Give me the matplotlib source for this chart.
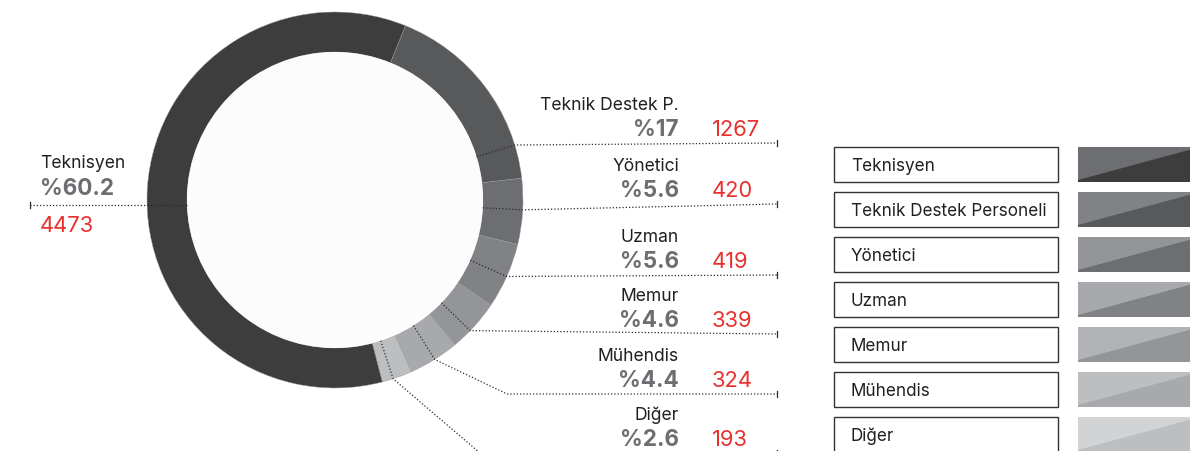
import numpy as np
import matplotlib
matplotlib.use('Agg')
import matplotlib.pyplot as plt
from matplotlib.patches import Wedge, Circle, Rectangle, Polygon

# data
categories = ['Teknisyen', 'Teknik Destek P.', 'Yönetici', 'Uzman', 'Memur', 'Mühendis', 'Diğer']
legend_labels = ['Teknisyen', 'Teknik Destek Personeli', 'Yönetici', 'Uzman', 'Memur', 'Mühendis', 'Diğer']
counts = [4473, 1267, 420, 419, 339, 324, 193]
percents = ['%60.2', '%17', '%5.6', '%5.6', '%4.6', '%4.4', '%2.6']

colors = ['#3d3d3e', '#58595b', '#6d6e71', '#808285', '#939598', '#a7a9ac', '#bcbec0']
light_colors = ['#6d6e71', '#808285', '#939598', '#a7a9ac', '#b1b3b6', '#bcbec0', '#d1d3d4']

plt.rcParams['font.family'] = ['Inter', 'DejaVu Sans']

fig = plt.figure(figsize=(11.9, 4.52), dpi=100)
ax = fig.add_axes([0, 0, 1, 1])
ax.set_xlim(0, 1190)
ax.set_ylim(452, 0)
ax.axis('off')

cx, cy, R, r = 335, 201, 188, 148
start = 22  # clockwise from 12 o'clock, where Teknik Destek begins
total = sum(counts)

# donut, clockwise: Teknik Destek ... Diger, then Teknisyen
order = [1, 2, 3, 4, 5, 6, 0]
ang = start
for i in order:
    span = counts[i] / total * 360
    # y axis is inverted, so counterclockwise in data = clockwise on screen
    ax.add_patch(Wedge((cx, cy), R, ang - 90, ang + span - 90, width=R - r,
                       facecolor=colors[i], edgecolor='#9a9a9a', linewidth=0.3))
    ang += span
ax.add_patch(Circle((cx, cy), r, facecolor='#fcfcfc', edgecolor='none'))


def pt(phi, rad):
    a = np.radians(phi)
    return cx + rad * np.sin(a), cy - rad * np.cos(a)


dot = dict(color='#2b2b2b', lw=0.9, linestyle=(0, (1, 1.6)))
line_end = 777

# leader lines (angle on ring, y of the horizontal run)
leader_phi = [268.5, 73, 93, 114, 134, 148, 162]
line_y = [206, 144, 205, 276, 335, 395, 454]
elbow_x = {5: 507, 6: 480}

name_fs, pct_fs, cnt_fs = 12.6, 16.2, 15.8

# Teknisyen on the left
x0, y0 = pt(leader_phi[0], r)
ax.plot([x0, 30], [line_y[0], line_y[0]], **dot)
ax.plot([30, 30], [line_y[0] - 3, line_y[0] + 3], color='#2b2b2b', lw=0.9)
ax.text(40, line_y[0] - 38, categories[0], fontsize=name_fs, color='#231f20', ha='left', va='baseline')
ax.text(40, line_y[0] - 11, percents[0], fontsize=pct_fs, fontweight='bold', color='#6d6e71',
        ha='left', va='baseline')
ax.text(40, line_y[0] + 26, str(counts[0]), fontsize=cnt_fs, color='#e8302e', ha='left', va='baseline')

for i in range(1, len(categories)):
    xi, yi = pt(leader_phi[i], r)
    xo, yo = pt(leader_phi[i], R)
    ly = line_y[i]
    if i in elbow_x:
        # extra slanted run before the horizontal one
        xs = [xi, xo, elbow_x[i], line_end]
        ys = [yi, yo, ly, ly]
    else:
        xs = [xi, xo, line_end]
        ys = [yi, yo, ly]
    ax.plot(xs, ys, **dot)
    ax.plot([line_end, line_end], [ly - 3, ly + 3], color='#2b2b2b', lw=0.9)
    ax.text(679, ly - 34, categories[i], fontsize=name_fs, color='#231f20', ha='right', va='baseline')
    ax.text(679, ly - 8, percents[i], fontsize=pct_fs, fontweight='bold', color='#6d6e71',
            ha='right', va='baseline')
    ax.text(712, ly - 8, str(counts[i]), fontsize=cnt_fs, color='#e8302e', ha='left', va='baseline')

# legend boxes and swatches
for i, lab in enumerate(legend_labels):
    top = 148 + 45 * i
    h = 35
    ax.add_patch(Rectangle((834, top), 224, h, facecolor='white', edgecolor='#333333', lw=1))
    ax.text(851, top + h / 2 + 1, lab, fontsize=12.3, color='#231f20', ha='left', va='center')
    ax.add_patch(Rectangle((1078, top), 130, h, facecolor=light_colors[i], edgecolor='none'))
    ax.add_patch(Polygon([(1078, top + h), (1078, top + h - 2), (1200, top), (1210, top),
                          (1210, top + h)], closed=True, facecolor=colors[i], edgecolor='none'))

fig.savefig('out.png', dpi=100, facecolor='white')
